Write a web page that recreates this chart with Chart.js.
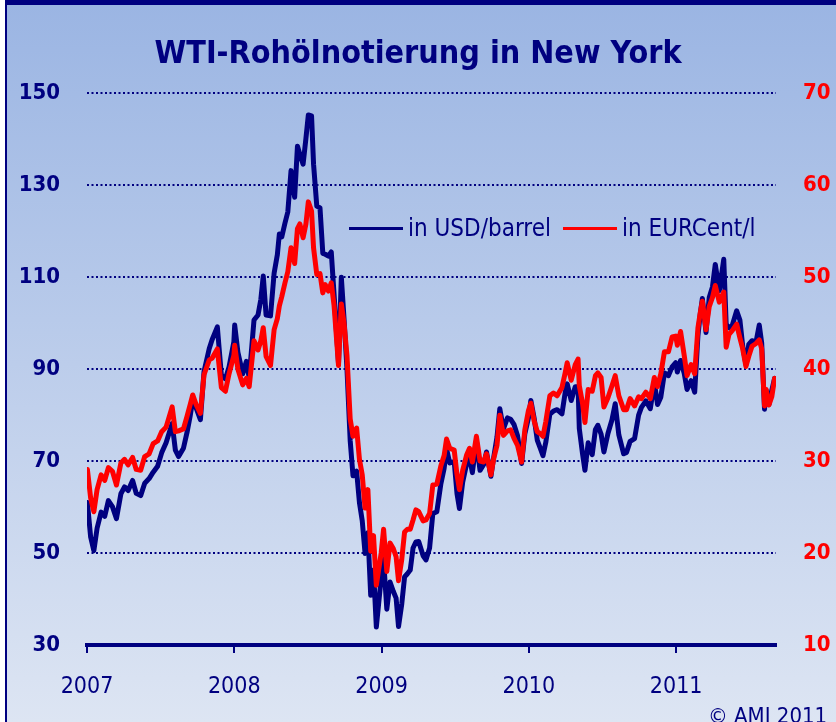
<!DOCTYPE html>
<html>
<head>
<meta charset="utf-8">
<title>WTI-Rohölnotierung in New York</title>
<script src="https://cdn.jsdelivr.net/npm/chart.js@4/dist/chart.umd.min.js"></script>
<style>
  html, body { margin: 0; padding: 0; background: #fff; }
  #frame {
    position: absolute; left: 5px; top: 0; width: 829px; height: 717px;
    border-top: 5px solid #000080; border-left: 2px solid #000080;
    background: linear-gradient(#9bb5e3, #dde5f3);
  }
  #chart { position: absolute; left: 0; top: 0; }
</style>
</head>
<body>
<div id="frame"></div>
<canvas id="chart" width="836" height="722"></canvas>
<script>
// WTI crude, every ten days
const dates = [
  '2007-01-02','2007-01-10','2007-01-18','2007-01-26','2007-02-05','2007-02-14','2007-02-23',
  '2007-03-05','2007-03-15','2007-03-26','2007-04-04','2007-04-13','2007-04-24','2007-05-03',
  '2007-05-14','2007-05-24','2007-06-04','2007-06-14','2007-06-25','2007-07-05','2007-07-16',
  '2007-07-31','2007-08-08','2007-08-16','2007-08-28','2007-09-06','2007-09-14','2007-09-20',
  '2007-09-28','2007-10-09','2007-10-18','2007-10-31','2007-11-07','2007-11-20','2007-11-30',
  '2007-12-10','2007-12-19','2007-12-31',
  '2008-01-02','2008-01-10','2008-01-22','2008-01-31','2008-02-07','2008-02-19','2008-02-29',
  '2008-03-07','2008-03-13','2008-03-20','2008-03-31','2008-04-09','2008-04-17','2008-04-22',
  '2008-04-28','2008-05-06','2008-05-13','2008-05-21','2008-05-30','2008-06-06','2008-06-12',
  '2008-06-20','2008-06-27','2008-07-03','2008-07-11','2008-07-16','2008-07-24','2008-08-01',
  '2008-08-08','2008-08-14','2008-08-22','2008-08-29','2008-09-05','2008-09-16','2008-09-23',
  '2008-09-30','2008-10-07','2008-10-15','2008-10-22','2008-10-31','2008-11-07','2008-11-14',
  '2008-11-21','2008-11-28','2008-12-05','2008-12-12','2008-12-19','2008-12-31',
  '2009-01-06','2009-01-14','2009-01-22','2009-01-30','2009-02-06','2009-02-12','2009-02-20',
  '2009-02-27','2009-03-06','2009-03-13','2009-03-20','2009-03-27','2009-04-03','2009-04-14',
  '2009-04-21','2009-04-30','2009-05-08','2009-05-18','2009-05-28','2009-06-05','2009-06-11',
  '2009-06-19','2009-06-30','2009-07-07','2009-07-13','2009-07-21','2009-07-31','2009-08-07',
  '2009-08-14','2009-08-24','2009-09-02','2009-09-11','2009-09-18','2009-09-29','2009-10-06',
  '2009-10-14','2009-10-21','2009-10-30','2009-11-09','2009-11-17','2009-11-25','2009-12-04',
  '2009-12-14','2009-12-22','2009-12-31',
  '2010-01-06','2010-01-14','2010-01-22','2010-01-29','2010-02-05','2010-02-12','2010-02-22',
  '2010-03-03','2010-03-12','2010-03-24','2010-04-01','2010-04-06','2010-04-16','2010-04-26',
  '2010-05-03','2010-05-06','2010-05-14','2010-05-20','2010-05-28','2010-06-07','2010-06-15',
  '2010-06-21','2010-06-29','2010-07-06','2010-07-16','2010-07-26','2010-08-03','2010-08-12',
  '2010-08-24','2010-08-31','2010-09-09','2010-09-20','2010-09-30','2010-10-07','2010-10-18',
  '2010-10-29','2010-11-08','2010-11-16','2010-11-24','2010-12-03','2010-12-13','2010-12-22',
  '2010-12-31',
  '2011-01-04','2011-01-12','2011-01-21','2011-01-28','2011-02-07','2011-02-16','2011-02-24',
  '2011-03-02','2011-03-07','2011-03-16','2011-03-24','2011-04-01','2011-04-08','2011-04-18',
  '2011-04-29','2011-05-05','2011-05-12','2011-05-20','2011-05-31','2011-06-08','2011-06-15',
  '2011-06-23','2011-06-30','2011-07-08','2011-07-18','2011-07-26','2011-08-01','2011-08-08',
  '2011-08-12','2011-08-19','2011-08-26','2011-09-02'
];

const usdPerBarrel = [
  61.0, 53.5, 50.5, 55.4, 58.9, 58.0, 61.4,
  60.1, 57.5, 62.9, 64.4, 63.6, 65.8, 63.0,
  62.5, 65.2, 66.2, 67.6, 68.9, 71.8, 74.0,
  78.2, 72.4, 71.0, 72.8, 76.3, 80.0, 83.3,
  81.7, 79.0, 89.5, 94.5, 96.4, 99.2, 88.7,
  87.9, 90.5, 96.0,
  99.6, 93.7, 89.0, 91.7, 88.1, 100.7, 101.8,
  105.2, 110.3, 101.8, 101.6, 110.9, 114.9, 119.4,
  118.8, 121.8, 124.2, 133.2, 127.4, 138.5, 136.7,
  134.6, 140.2, 145.3, 145.1, 134.6, 125.5, 125.1,
  115.2, 115.0, 114.6, 115.5, 106.2, 91.2, 110.0,
  100.6, 90.1, 74.5, 66.8, 67.8, 61.0, 57.0,
  49.9, 54.4, 40.8, 46.3, 33.9, 44.6,
  48.6, 37.8, 43.7, 41.7, 40.2, 34.0, 38.9,
  44.8, 45.5, 46.3, 51.1, 52.4, 52.5, 49.4,
  48.5, 51.1, 58.6, 59.0, 65.1, 68.4, 72.7,
  69.6, 69.9, 62.9, 59.7, 65.4, 69.5, 70.9,
  67.5, 74.4, 68.0, 69.3, 72.0, 66.7, 70.9,
  75.2, 81.4, 77.0, 79.4, 79.1, 78.0, 75.5,
  69.5, 75.9, 79.4,
  83.2, 79.4, 74.5, 72.9, 71.2, 74.1, 80.2,
  80.9, 81.2, 80.3, 84.9, 86.8, 83.2, 86.2,
  86.2, 77.1, 71.6, 68.0, 74.0, 71.4, 76.9,
  77.8, 75.9, 72.0, 76.0, 79.0, 82.5, 75.7,
  71.6, 71.9, 74.3, 74.9, 80.0, 81.7, 83.1,
  81.4, 87.1, 82.3, 83.9, 89.2, 88.6, 90.5,
  91.4,
  89.4, 91.9, 89.1, 85.6, 87.5, 85.0, 97.3,
  102.2, 105.4, 98.0, 105.6, 107.9, 112.8, 107.1,
  113.9, 99.8, 99.0, 99.5, 102.7, 100.7, 95.0,
  91.0, 95.4, 96.2, 95.9, 99.6, 95.7, 81.3,
  85.4, 82.3, 85.4, 88.0
];

const eurCentPerLitre = [
  29.1, 26.0, 24.5, 26.9, 28.5, 27.9, 29.3,
  28.9, 27.4, 29.8, 30.2, 29.6, 30.4, 29.1,
  29.0, 30.5, 30.8, 31.9, 32.2, 33.2, 33.7,
  35.9, 33.2, 33.3, 33.5, 34.9, 36.2, 37.2,
  36.2, 35.2, 39.4, 41.0, 41.2, 42.2, 38.0,
  37.6, 39.5, 41.5,
  42.6, 40.0, 38.3, 39.0, 38.1, 43.1, 42.1,
  43.1, 44.5, 41.4, 40.4, 44.3, 45.5, 46.9,
  47.9, 49.4, 50.6, 53.2, 51.5, 55.3, 55.8,
  54.3, 55.8, 58.2, 57.2, 53.2, 50.3, 50.4,
  48.3, 49.2, 48.5, 49.4, 46.9, 40.4, 47.1,
  44.9, 41.5, 34.6, 32.7, 33.6, 30.2, 28.5,
  24.9, 26.9, 20.2, 21.9, 16.5, 20.0,
  22.6, 18.0, 21.1, 20.5, 19.6, 17.0, 19.3,
  22.3, 22.6, 22.6, 23.6, 24.7, 24.5, 23.5,
  23.6, 24.3, 27.4, 27.5, 29.5, 30.6, 32.4,
  31.4, 31.2, 28.5, 26.9, 29.0, 30.7, 31.4,
  29.9, 32.7, 30.0, 29.9, 30.8, 28.5, 30.3,
  31.7, 35.0, 32.8, 33.3, 33.4, 32.5, 31.7,
  29.9, 33.4, 35.5,
  36.3, 34.4, 33.2, 33.0, 32.7, 34.3, 37.1,
  37.4, 37.1, 38.0, 39.6, 40.7, 38.8, 40.5,
  41.1, 38.2, 36.3, 34.2, 37.8, 37.6, 39.3,
  39.6, 39.1, 35.9, 36.9, 38.2, 39.3, 37.1,
  35.6, 35.6, 36.8, 36.0, 37.0, 36.8, 37.5,
  36.8, 39.1, 38.1, 39.5, 41.9, 41.9, 43.5,
  43.6,
  42.6, 44.1, 41.5, 39.3, 40.5, 39.5, 44.5,
  46.2, 47.4, 44.3, 46.8, 47.8, 49.1, 47.3,
  48.4, 42.4, 43.8, 44.2, 44.9, 43.4, 42.2,
  40.3, 41.4, 42.5, 42.8, 43.2, 42.2, 36.0,
  37.8, 36.1, 37.0, 39.0
];

const seriesNames = ['in USD/barrel', 'in EURCent/l'];
const yearTicks = [2007, 2008, 2009, 2010, 2011];

const navy = '#000080';
const red = '#ff0000';
const fontFamily = '"DejaVu Sans Condensed", "DejaVu Sans", sans-serif';

// date string -> fractional year for the linear x axis
function toYear(d) {
    const [y, m, day] = d.split('-').map(Number);
    const start = Date.UTC(y, 0, 1);
    const end = Date.UTC(y + 1, 0, 1);
    return y + (Date.UTC(y, m - 1, day) - start) / (end - start);
}

const xs = dates.map(toYear);

// legend sits inside the plot, plus the copyright line
const insideLegend = {
    id: 'insideLegend',
    afterDraw(chart) {
        const ctx = chart.ctx;
        const area = chart.chartArea;
        ctx.save();
        ctx.font = '24px ' + fontFamily;
        ctx.textBaseline = 'middle';
        const y = chart.scales.y.getPixelForValue(120.6);
        let x = area.left + 262;
        chart.data.datasets.forEach((ds) => {
            ctx.strokeStyle = ds.borderColor;
            ctx.lineWidth = 3;
            ctx.beginPath();
            ctx.moveTo(x, y);
            ctx.lineTo(x + 54, y);
            ctx.stroke();
            ctx.fillStyle = navy;
            ctx.fillText(ds.label, x + 59, y + 1);
            x += 59 + ctx.measureText(ds.label).width + 12;
        });

        ctx.font = '22px ' + fontFamily;
        ctx.textBaseline = 'alphabetic';
        ctx.fillText('\u00A9 AMI 2011', 708, 723);
        ctx.restore();
    }
};

const ctx = document.getElementById('chart').getContext('2d');
const chart = new Chart(ctx, {
    type: 'line',
    data: {
        datasets: [{
            label: seriesNames[0],
            data: xs.map((x, i) => ({ x: x, y: usdPerBarrel[i] })),
            borderColor: navy,
            yAxisID: 'y',
            order: 2
        }, {
            label: seriesNames[1],
            data: xs.map((x, i) => ({ x: x, y: eurCentPerLitre[i] })),
            borderColor: red,
            yAxisID: 'y1',
            order: 1
        }]
    },
    options: {
        responsive: false,
        animation: false,
        layout: { padding: 0 },
        elements: {
            point: { radius: 0 },
            line: { borderWidth: 5, tension: 0, borderJoinStyle: 'round', borderCapStyle: 'round', fill: false }
        },
        plugins: {
            legend: { display: false },
            tooltip: { enabled: false },
            title: {
                display: true,
                text: 'WTI-Rohölnotierung in New York',
                color: navy,
                font: { family: fontFamily, size: 32, weight: 'bold' },
                padding: { top: 35, bottom: 20 }
            }
        },
        scales: {
            x: {
                type: 'linear',
                min: 2007,
                max: 2011.678,
                afterBuildTicks: (scale) => {
                    scale.ticks = yearTicks.map(v => ({ value: v }));
                },
                afterFit: (scale) => { scale.height = 77; },
                ticks: {
                    color: navy,
                    font: { family: fontFamily, size: 23 },
                    padding: 20,
                    maxRotation: 0,
                    callback: (v) => String(v)
                },
                grid: {
                    drawOnChartArea: false,
                    drawTicks: true,
                    tickLength: 8,
                    color: navy,
                    lineWidth: 2
                },
                border: { display: true, color: navy, width: 4 }
            },
            y: {
                position: 'left',
                min: 30,
                max: 150,
                afterFit: (scale) => { scale.width = 87; },
                ticks: {
                    stepSize: 20,
                    color: navy,
                    font: { family: fontFamily, size: 22, weight: 'bold' },
                    padding: 27
                },
                grid: {
                    drawTicks: false,
                    color: navy,
                    lineWidth: 2
                },
                border: { display: false, dash: [2, 2.5] }
            },
            y1: {
                position: 'right',
                min: 10,
                max: 70,
                afterFit: (scale) => { scale.width = 60; },
                ticks: {
                    stepSize: 10,
                    color: red,
                    font: { family: fontFamily, size: 22, weight: 'bold' },
                    padding: 27
                },
                grid: { display: false, drawTicks: false },
                border: { display: false }
            }
        }
    },
    plugins: [insideLegend]
});
</script>
</body>
</html>
